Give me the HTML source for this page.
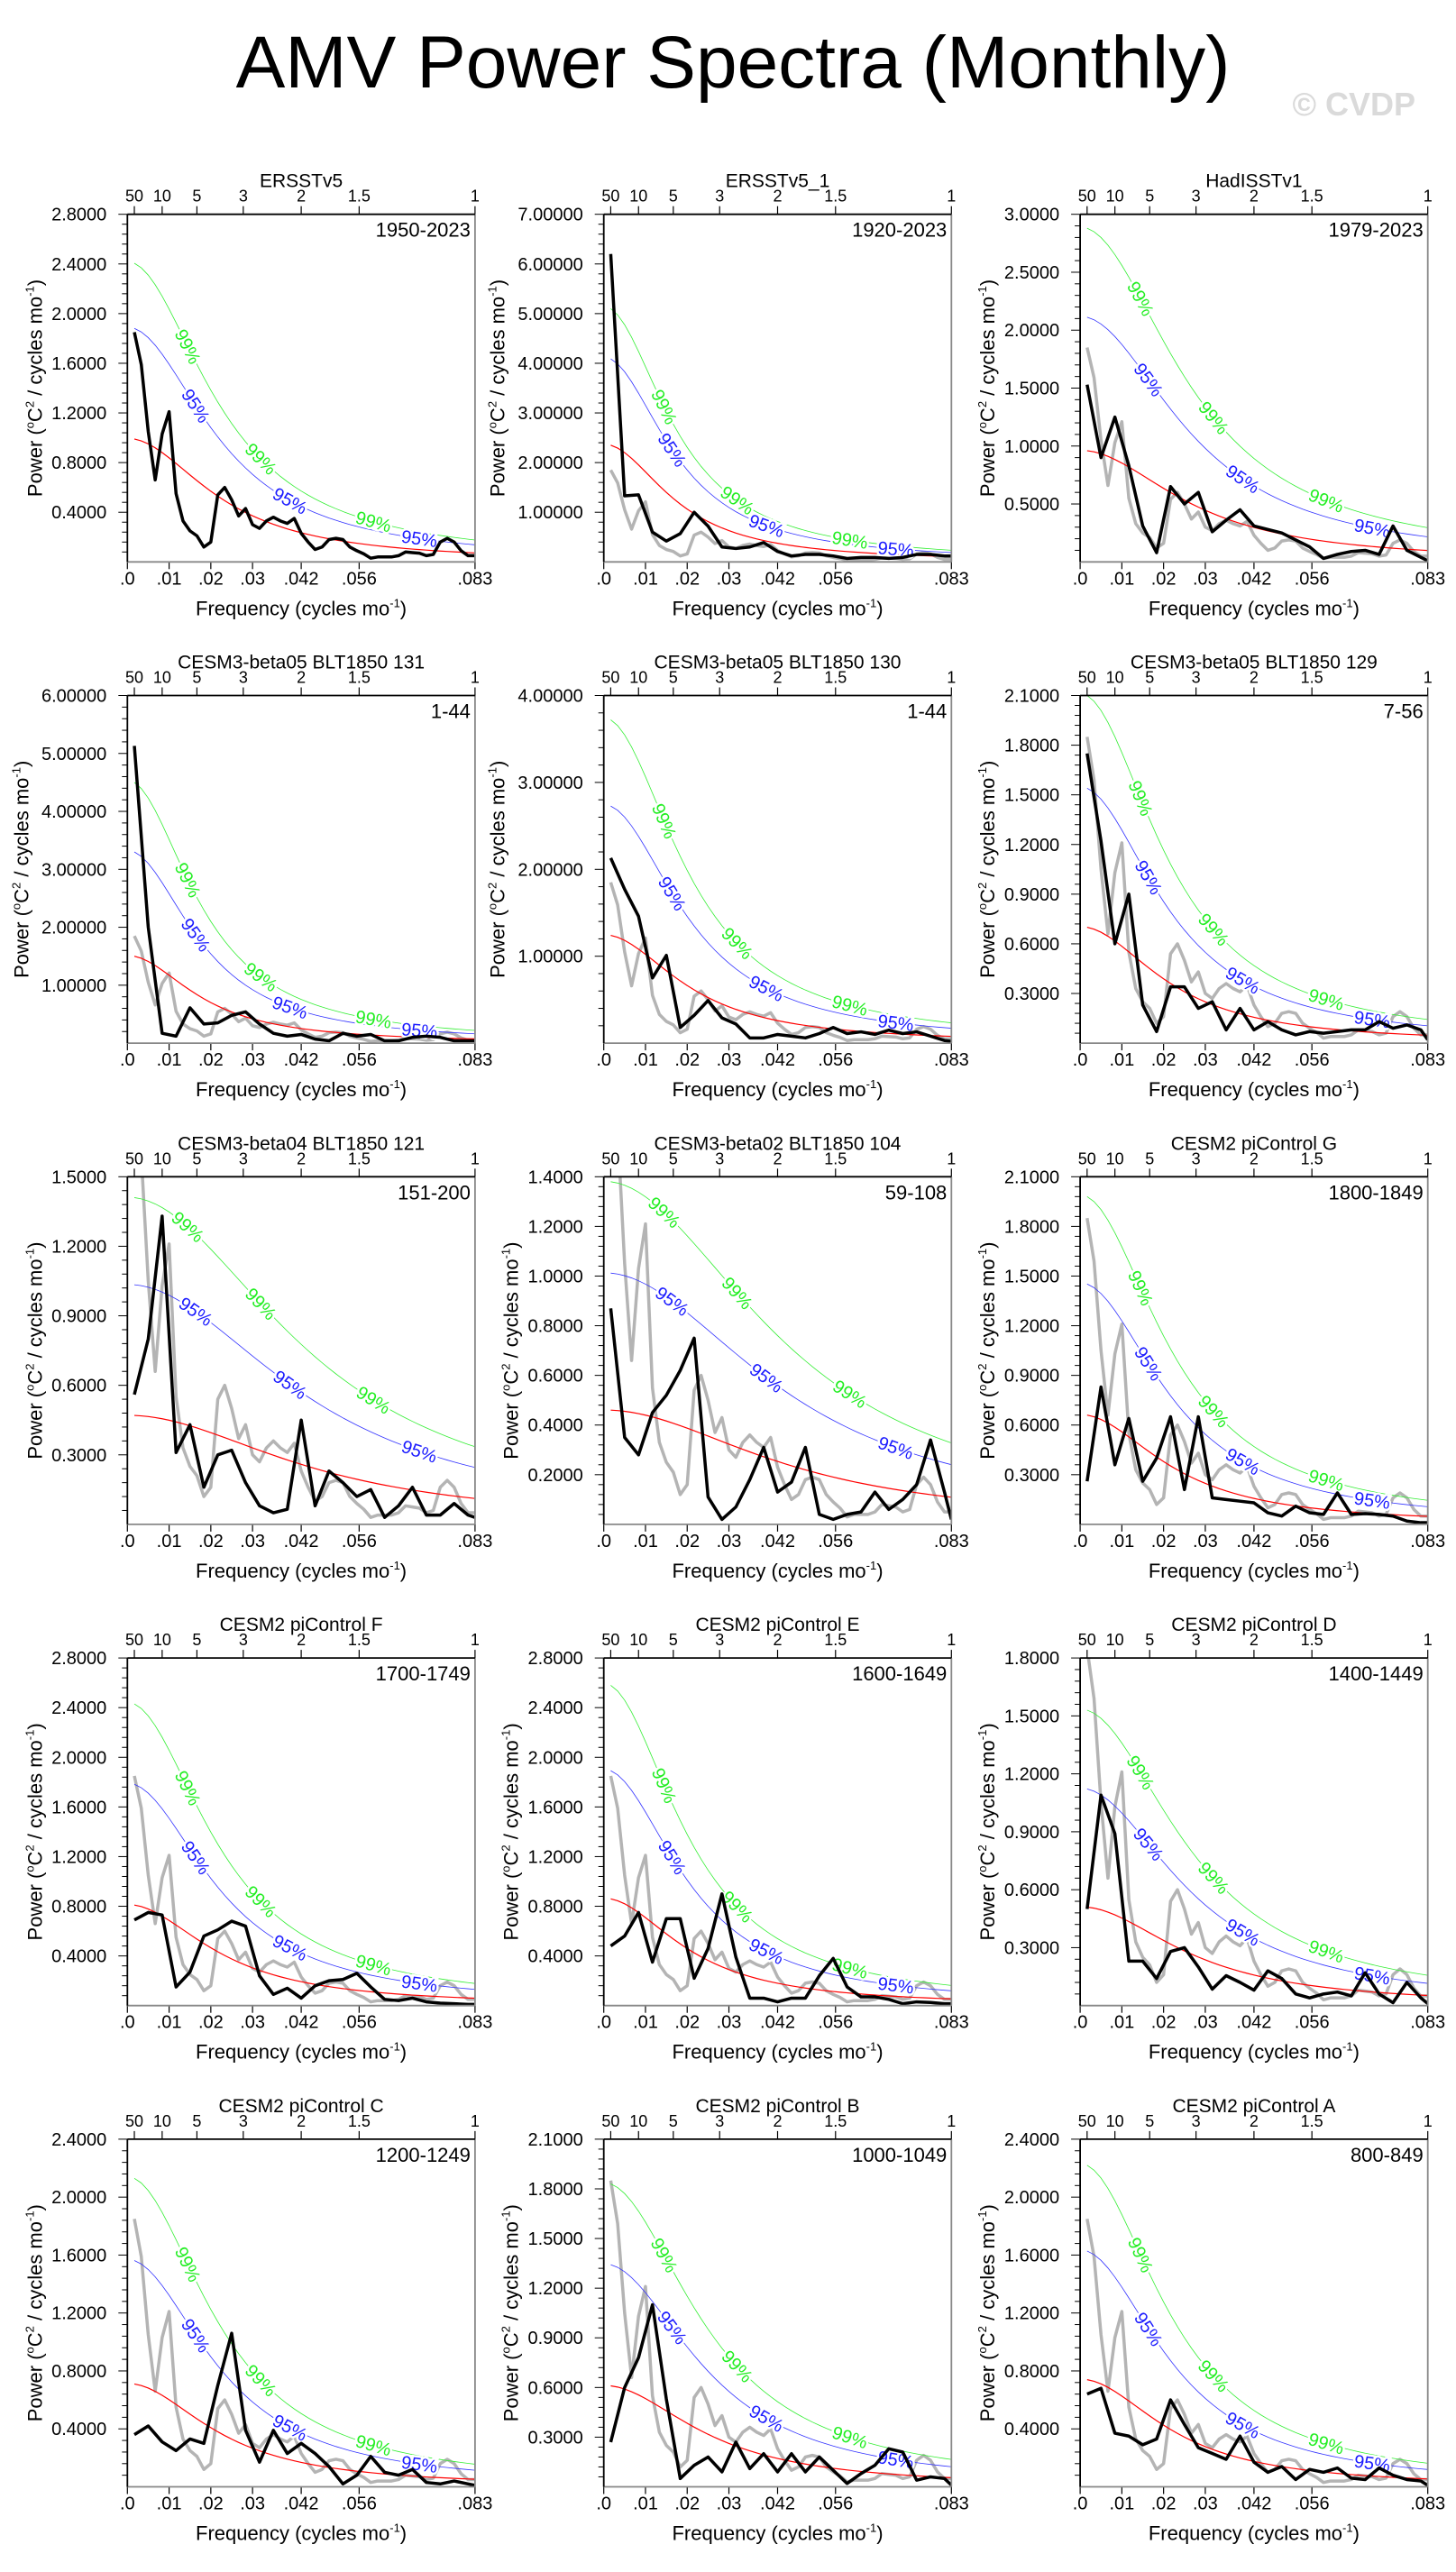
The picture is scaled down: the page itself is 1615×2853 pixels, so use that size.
<!DOCTYPE html>
<html><head><meta charset="utf-8"><title>AMV Power Spectra (Monthly)</title>
<style>
html,body{margin:0;padding:0;background:#fff;}
svg{display:block;font-family:"Liberation Sans",Arial,sans-serif;}
</style></head>
<body>
<svg id="chart" width="1615" height="2853" viewBox="0 0 1615 2853" xmlns="http://www.w3.org/2000/svg">
<rect x="0" y="0" width="1615" height="2853" fill="#fff"/>
<text x="813" y="97" font-size="82" text-anchor="middle" fill="#000">AMV Power Spectra (Monthly)</text>
<text x="1570" y="128" font-size="36" font-weight="bold" text-anchor="end" fill="#dadada">© CVDP</text>
<defs id="defs"></defs>
</svg>
<script>
// ---------- data ----------
const freq50 = [.00167,.00333,.005,.00667,.00833,.01,.01167,.01333,.015,.01667,.01833,.02,.02167,.02333,.025,.02667,.02833,.03,.03167,.03333,.035,.03667,.03833,.04,.04167,.04333,.045,.04667,.04833,.05,.05167,.05333,.055,.05667,.05833,.06,.06167,.06333,.065,.06667,.06833,.07,.07167,.07333,.075,.07667,.07833,.08,.08167,.08333];
const freq26 = [.00167,.005,.00833,.01167,.015,.01833,.02167,.025,.02833,.03167,.035,.03833,.04167,.045,.04833,.05167,.055,.05833,.06167,.065,.06833,.07167,.075,.07833,.08167,.08333];
const refERSST = [1.85,1.59,1.05,.66,1.03,1.21,.55,.33,.25,.21,.12,.16,.54,.60,.50,.37,.43,.30,.27,.33,.36,.33,.31,.35,.23,.16,.10,.12,.18,.19,.18,.12,.09,.065,.03,.04,.04,.04,.05,.08,.075,.07,.05,.06,.16,.19,.16,.09,.05,.05];

const titles = ["ERSSTv5","ERSSTv5_1","HadISSTv1","CESM3-beta05 BLT1850 131","CESM3-beta05 BLT1850 130","CESM3-beta05 BLT1850 129","CESM3-beta04 BLT1850 121","CESM3-beta02 BLT1850 104","CESM2 piControl G","CESM2 piControl F","CESM2 piControl E","CESM2 piControl D","CESM2 piControl C","CESM2 piControl B","CESM2 piControl A"];
const years = ["1950-2023","1920-2023","1979-2023","1-44","1-44","7-56","151-200","59-108","1800-1849","1700-1749","1600-1649","1400-1449","1200-1249","1000-1049","800-849"];
const yMax = [2.8,7,3,6,4,2.1,1.5,1.4,2.1,2.8,2.8,1.8,2.4,2.1,2.4];
const yStep = [.4,1,.5,1,1,.3,.3,.2,.3,.4,.4,.3,.4,.3,.4];
const yDec = [4,5,4,5,5,4,4,4,4,4,4,4,4,4,4];
const red0 = [.99,2.35,.96,1.5,1.24,.7,.47,.46,.66,.81,.86,.51,.71,.61,.74];
const rho = [.865,.893,.84,.89,.875,.87,.75,.75,.865,.865,.875,.84,.865,.85,.865];
const k95 = [1.9,1.74,2.2,2.2,2.2,2.2,2.2,2.2,2.2,2.2,2.2,2.2,2.2,2.2,2.2];
const k99 = [2.43,2.17,3.0,3.0,3.0,3.0,3.0,3.0,3.0,3.0,3.0,3.0,3.0,3.0,3.0];

const spec2 = [6.2,1.33,1.35,.6,.42,.57,1.0,.72,.3,.27,.3,.39,.21,.12,.15,.15,.12,.07,.09,.09,.07,.09,.15,.15,.12,.12];
const spec3 = [1.53,.9,1.25,.83,.31,.08,.65,.5,.6,.26,.36,.45,.31,.28,.25,.19,.13,.03,.065,.09,.1,.065,.31,.1,.04,.01];
const spec4 = [5.13,2.0,.17,.12,.61,.33,.35,.48,.54,.33,.17,.12,.15,.07,.04,.17,.12,.15,.04,.04,.1,.12,.1,.04,.04,.04];
const spec5 = [2.13,1.77,1.46,.75,1.01,.18,.32,.49,.29,.22,.06,.06,.1,.08,.06,.11,.18,.11,.13,.1,.15,.11,.13,.08,.03,.02];
const spec6 = [1.75,1.22,.6,.9,.23,.07,.34,.34,.21,.25,.08,.21,.08,.13,.08,.05,.07,.06,.07,.08,.08,.13,.09,.11,.08,.02];
const spec7 = [.56,.8,1.33,.31,.43,.16,.3,.32,.18,.08,.05,.065,.45,.08,.23,.18,.12,.15,.03,.08,.16,.04,.04,.09,.04,.03];
const spec8 = [.87,.35,.28,.45,.52,.62,.75,.11,.02,.07,.18,.31,.13,.17,.31,.04,.02,.04,.05,.13,.06,.1,.16,.34,.13,.02];
const spec9 = [.26,.83,.36,.64,.26,.4,.65,.21,.65,.16,.15,.14,.13,.07,.05,.11,.07,.06,.19,.06,.065,.06,.05,.02,.01,.01];
const spec10 = [.69,.75,.73,.15,.27,.56,.61,.68,.64,.24,.09,.14,.06,.16,.2,.21,.26,.15,.05,.04,.06,.03,.02,.015,.01,.01];
const spec11 = [.48,.56,.75,.35,.7,.7,.22,.46,.9,.39,.06,.06,.03,.06,.06,.24,.38,.15,.07,.07,.05,.015,.03,.025,.015,.015];
const spec12 = [.5,1.09,.89,.23,.23,.14,.28,.3,.2,.085,.155,.12,.08,.18,.14,.06,.04,.06,.07,.05,.17,.06,.015,.12,.04,.01];
const spec13 = [.36,.42,.31,.25,.33,.3,.7,1.06,.39,.17,.39,.23,.3,.23,.14,.02,.08,.21,.1,.08,.12,.03,.02,.04,.02,.01];
const spec14 = [.27,.6,.78,1.1,.53,.05,.13,.18,.09,.27,.11,.2,.09,.2,.09,.18,.1,.02,.08,.13,.23,.21,.04,.06,.05,.01];
const spec15 = [.64,.68,.37,.35,.29,.33,.6,.43,.27,.23,.19,.35,.17,.1,.14,.05,.12,.1,.13,.06,.05,.13,.08,.05,.04,.01];
const spectra = [refERSST,spec2,spec3,spec4,spec5,spec6,spec7,spec8,spec9,spec10,spec11,spec12,spec13,spec14,spec15];

const bottomTickVals = [0,.01,.02,.03,1/24,1/18,1/12];
const bottomTickLabels = [".0",".01",".02",".03",".042",".056",".083"];
const topTickYears = [50,10,5,3,2,1.5,1];
const topTickLabels = ["50","10","5","3","2","1.5","1"];
const lab99Freq = [.0145,.032,.059];
const lab95Freq = [.0164,.039,.07];

// ---------- layout ----------
const NS = "http://www.w3.org/2000/svg";
const svg = document.getElementById("chart");
const defs = document.getElementById("defs");
const PW = 385.6, PH = 385.6;
const X0 = 141.3, DX = 528.4, Y0 = 237.7, DY = 533.8;
const FMAX = 1/12;

function el(tag, attrs, parent){
  const e = document.createElementNS(NS, tag);
  for (const k in attrs) e.setAttribute(k, attrs[k]);
  (parent||svg).appendChild(e);
  return e;
}

titles.forEach((title, p) => {
  const r = Math.floor(p/3), c = p%3;
  const L = X0 + c*DX, T = Y0 + r*DY, R = L+PW, B = T+PH;
  const xs = f => L + f/FMAX*PW;
  const ys = v => B - v/yMax[p]*PH;

  const g = el("g", {});
  
  

  const cp = el("clipPath", {id:"clip"+p}, defs);
  el("rect", {x:L, y:T, width:PW, height:PH}, cp);

  const tt = el("text", {x:(L+R)/2, y:T-30, "font-size":21, "text-anchor":"middle"}, g);
  tt.textContent = title;
  
  

  const yl = el("text", {x:R-5, y:T+25, "font-size":22, "text-anchor":"end"}, g);
  yl.textContent = years[p];
  
  

  topTickYears.forEach((yr, i) => {
    const x = xs(1/(12*yr));
    const tk = el("line", {x1:x, x2:x, y1:T, y2:T-9, stroke:"#000", "stroke-width":1.2}, g);
    
    
    const tl = el("text", {x:x, y:T-14, "font-size":18, "text-anchor":"middle"}, g);
    tl.textContent = topTickLabels[i];
    
    
  });

  bottomTickVals.forEach((f, i) => {
    const x = xs(f);
    const tk = el("line", {x1:x, x2:x, y1:B, y2:B+8, stroke:"#000", "stroke-width":1.2}, g);
    
    
    const tl = el("text", {x:x, y:B+25, "font-size":20, "text-anchor":"middle"}, g);
    tl.textContent = bottomTickLabels[i];
    
    
  });

  const xt = el("text", {x:(L+R)/2, y:B+59, "font-size":22, "text-anchor":"middle"}, g);
  xt.innerHTML = 'Frequency (cycles mo<tspan font-size="13" dy="-9">-1</tspan><tspan dy="9">)</tspan>';
  
  

  const nMaj = Math.round(yMax[p]/yStep[p]);
  for (let j = 1; j <= nMaj*5; j++) {
    const v = j*yStep[p]/5;
    const y = ys(v);
    const major = j%5===0;
    const tk = el("line", {x1:L, x2:L-(major?10:6), y1:y, y2:y, stroke:"#000", "stroke-width":1}, g);
    
    
    if (major) {
      const tl = el("text", {x:L-23, y:y+7, "font-size":20, "text-anchor":"end"}, g);
      tl.textContent = v.toFixed(yDec[p]);
      
      
    }
  }

  const ytx = L - (yDec[p] === 5 ? 118 : 103), yty = (T+B)/2;
  const yt = el("text", {x:ytx, y:yty, "font-size":22, "text-anchor":"middle", transform:`rotate(-90 ${ytx} ${yty})`, dy:"8"}, g);
  yt.innerHTML = 'Power (<tspan font-size="13" dy="-9">o</tspan><tspan dy="9">C</tspan><tspan font-size="13" dy="-9">2</tspan><tspan dy="9"> / cycles mo</tspan><tspan font-size="13" dy="-9">-1</tspan><tspan dy="9">)</tspan>';
  
  

  const cg = el("g", {"clip-path":`url(#clip${p})`}, g);
  
  

  const D = f => 1 + rho[p]*rho[p] - 2*rho[p]*Math.cos(2*Math.PI*f);
  const redAt = f => red0[p]*D(freq50[0])/D(f);
  const ptsFn = fn => freq50.map(f => xs(f).toFixed(2)+","+ys(fn(f)).toFixed(2)).join(" ");

  if (p > 0) {
    const gr = el("polyline", {points: freq50.map((f,i)=>xs(f).toFixed(2)+","+ys(refERSST[i]).toFixed(2)).join(" "), fill:"none", stroke:"#b4b4b4", "stroke-width":3.5, "stroke-linejoin":"round"}, cg);
    
    
  }
  const rl = el("polyline", {points: ptsFn(redAt), fill:"none", stroke:"#ff0000", "stroke-width":1.2}, cg);
  
  
  const bl = el("polyline", {points: ptsFn(f=>redAt(f)*k95[p]), fill:"none", stroke:"#3333ff", "stroke-width":0.8}, cg);
  
  
  const gl = el("polyline", {points: ptsFn(f=>redAt(f)*k99[p]), fill:"none", stroke:"#33ee33", "stroke-width":0.8}, cg);
  
  

  const addLab = (freqs, k, txt, color, nm) => {
    freqs.forEach(f => {
      const x = xs(f), y = ys(redAt(f)*k);
      const x1 = xs(f-.002), y1 = ys(redAt(f-.002)*k), x2 = xs(f+.002), y2 = ys(redAt(f+.002)*k);
      const ang = Math.atan2(y2-y1, x2-x1)*180/Math.PI;
      if (y < T+10) return;
      const t = el("text", {x:x, y:y+7, "font-size":20, "text-anchor":"middle", fill:color, stroke:"#fff", "stroke-width":5, "paint-order":"stroke", transform:`rotate(${ang.toFixed(1)} ${x} ${y})`}, cg);
      t.textContent = txt;
      
      
    });
  };
  addLab(lab99Freq, k99[p], "99%", "#22ee22", 'label-99-percent');
  addLab(lab95Freq, k95[p], "95%", "#1a1aff", 'label-95-percent');

  const fr = p === 0 ? freq50 : freq26;
  const sp = el("polyline", {points: fr.map((f,i)=>xs(f).toFixed(2)+","+ys(spectra[p][i]).toFixed(2)).join(" "), fill:"none", stroke:"#000", "stroke-width":3.5, "stroke-linejoin":"round"}, cg);
  
  

  const fb = el("line", {x1:L, x2:R, y1:B, y2:B, stroke:"#888", "stroke-width":1.8}, g);
  
  
  const frr = el("line", {x1:R, x2:R, y1:T, y2:B, stroke:"#888", "stroke-width":1.8}, g);
  
  
  const fl = el("line", {x1:L, x2:L, y1:T, y2:B, stroke:"#000", "stroke-width":1.8}, g);
  
  
  const ft = el("line", {x1:L, x2:R, y1:T, y2:T, stroke:"#000", "stroke-width":1.8}, g);
  
  
});
</script>
</body></html>
